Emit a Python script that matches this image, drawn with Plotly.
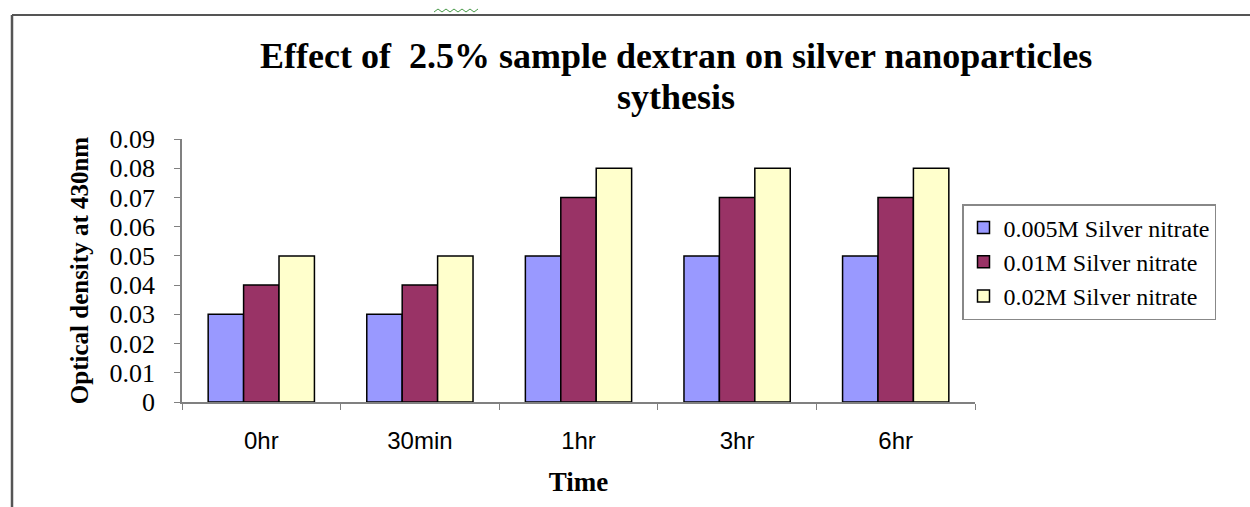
import plotly.graph_objects as go

categories = ["0hr", "30min", "1hr", "3hr", "6hr"]
series_names = ["0.005M Silver nitrate", "0.01M Silver nitrate", "0.02M Silver nitrate"]
values_005 = [0.03, 0.03, 0.05, 0.05, 0.05]
values_01 = [0.04, 0.04, 0.07, 0.07, 0.07]
values_02 = [0.05, 0.05, 0.08, 0.08, 0.08]
colors = ["#9999FF", "#993366", "#FFFFCC"]
y_ticks = [0, 0.01, 0.02, 0.03, 0.04, 0.05, 0.06, 0.07, 0.08, 0.09]
y_ticklabels = ["0", "0.01", "0.02", "0.03", "0.04", "0.05", "0.06", "0.07", "0.08", "0.09"]
title_lines = ["Effect of&nbsp; 2.5% sample dextran on silver nanoparticles", "sythesis"]

W, H = 1250, 507
L, R, T, B = 182, 975, 139, 402

def px(x):
    return (x - L) / (R - L)

def py(y):
    return (B - y) / (B - T)

SERIF = "Liberation Serif, Times New Roman, serif"
SANS = "Liberation Sans, Arial, sans-serif"

fig = go.Figure()
for name, vals, col in zip(series_names, [values_005, values_01, values_02], colors):
    fig.add_trace(go.Bar(
        x=categories, y=vals, name=name,
        marker=dict(color=col, line=dict(color="#000000", width=1.5)),
    ))

fig.update_layout(
    width=W, height=H,
    margin=dict(l=L, r=W - R, t=T, b=H - B, pad=0),
    paper_bgcolor="white", plot_bgcolor="white",
    barmode="group", bargap=0.33, bargroupgap=0,
    showlegend=True,
    legend=dict(
        x=px(962), y=py(204), xanchor="left", yanchor="top",
        font=dict(family=SERIF, size=24, color="#000"),
        bordercolor="#888888", borderwidth=1.5, bgcolor="white",
        itemwidth=30, tracegroupgap=0,
    ),
    xaxis=dict(
        type="category", range=[-0.5, 4.5],
        showline=True, linecolor="#808080", linewidth=1.5,
        ticks="outside", tickson="boundaries", ticklen=6, tickcolor="#808080",
        tickfont=dict(family=SANS, size=24, color="#000"),
        ticklabelstandoff=16,
        showgrid=False, zeroline=False,
        title=dict(text="<b>Time</b>", font=dict(family=SERIF, size=27, color="#000"), standoff=20),
    ),
    yaxis=dict(
        range=[0, 0.09], tickvals=y_ticks, ticktext=y_ticklabels,
        showline=True, linecolor="#808080", linewidth=1.5,
        ticks="outside", ticklen=6, tickcolor="#808080",
        tickfont=dict(family=SERIF, size=26, color="#000"),
        ticklabelstandoff=14,
        showgrid=False, zeroline=False,
        title=dict(text="<b>Optical density at 430nm</b>", font=dict(family=SERIF, size=25, color="#000"), standoff=14),
    ),
)

for line, yc in zip(title_lines, [56, 97]):
    fig.add_annotation(
        text="<b>" + line + "</b>",
        xref="paper", yref="paper", x=px(676), y=py(yc), xanchor="center", yanchor="middle",
        showarrow=False, align="center",
        font=dict(family=SERIF, size=36, color="#000"),
    )

# Frame lines of the embedded chart
fig.add_shape(type="line", xref="paper", yref="paper", x0=px(12), x1=px(12), y0=py(15), y1=py(507),
              line=dict(color="#555555", width=2.5))
fig.add_shape(type="line", xref="paper", yref="paper", x0=px(12), x1=px(1250), y0=py(15), y1=py(15),
              line=dict(color="#555555", width=2))
# small green spell-check squiggle
zig = "M {} {}".format(px(434), py(12))
xs = list(range(434, 482, 4))
for i, xv in enumerate(xs[1:]):
    zig += " L {} {}".format(px(xv), py(9 if i % 2 == 0 else 12))
fig.add_shape(type="path", xref="paper", yref="paper", path=zig, line=dict(color="#4a9a4a", width=1))

fig.write_html("out.html")
